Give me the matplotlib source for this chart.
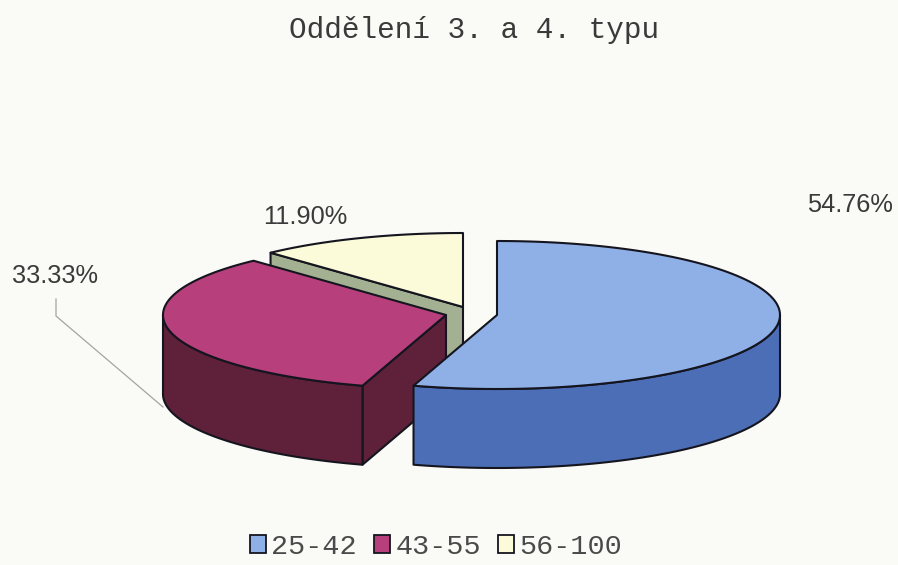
import numpy as np
import matplotlib
matplotlib.use("Agg")
import matplotlib.pyplot as plt
from matplotlib.patches import Polygon, Patch

title = "Oddělení 3. a 4. typu"
categories = ["25-42", "43-55", "56-100"]
shares = [54.76, 33.33, 11.90]
share_labels = ["54.76%", "33.33%", "11.90%"]

top_colors = ["#8fb0e6", "#b63f7c", "#fbfbd9"]
side_colors = ["#4b6eb6", "#5f2139", "#a3b192"]
edge = "#15151f"
paper = "#fafaf6"
text_col = "#3a3a3a"

centers = [(497, 315), (446, 315), (463, 307)]
rx, ry, depth = 283, 74, 79

fig = plt.figure(figsize=(8.98, 5.65), dpi=100, facecolor=paper)
ax = fig.add_axes([0, 0, 1, 1])
ax.set_xlim(0, 898)
ax.set_ylim(565, 0)
ax.axis("off")


def rim(cx, cy, a0, a1, n=120):
    t = np.radians(np.linspace(a0, a1, n))
    return np.column_stack([cx + rx * np.sin(t), cy - ry * np.cos(t)])


edges = np.concatenate([[0], np.cumsum(shares) / np.sum(shares) * 360])
kw = dict(edgecolor=edge, linewidth=1.5, joinstyle="round")

# back to front: third slice, second slice, first slice
for i in [2, 1, 0]:
    a0, a1 = edges[i], edges[i + 1]
    cx, cy = centers[i]
    down = np.array([0, depth])
    apex = np.array([cx, cy])
    top = rim(cx, cy, a0, a1)

    # cut face belonging to the leading edge, when it faces the viewer
    if 180 < a0 < 360:
        p = rim(cx, cy, a0, a0, 1)[0]
        ax.add_patch(Polygon([apex, p, p + down, apex + down], closed=True,
                             facecolor=side_colors[i], **kw))

    # outer wall: only the part of the rim at the front of the ellipse
    w0, w1 = max(a0, 90), min(a1, 270)
    if w1 > w0:
        r = rim(cx, cy, w0, w1)
        ax.add_patch(Polygon(np.vstack([r, (r + down)[::-1]]), closed=True,
                             facecolor=side_colors[i], **kw))

    ax.add_patch(Polygon(np.vstack([apex, top]), closed=True,
                         facecolor=top_colors[i], **kw))

# percentage labels and the leader line of the middle slice
label_font = dict(family="Liberation Sans", fontsize=18.3, color=text_col,
                  ha="center", va="center")
ax.text(850, 205, share_labels[0], **label_font)
ax.text(55, 276, share_labels[1], **label_font)
ax.text(305, 217, share_labels[2], **label_font)
ax.plot([56, 56, 163], [299, 316, 407], color="#a5a5a0", lw=0.9)

ax.text(474, 30, title, family="Liberation Mono", fontsize=21.2,
        color=text_col, ha="center", va="center")

handles = [Patch(facecolor=c, edgecolor=edge, linewidth=1.3) for c in top_colors]
leg = ax.legend(handles, categories, loc="center", bbox_to_anchor=(436, 547),
                bbox_transform=ax.transData, ncol=3, frameon=False,
                prop=dict(family="Liberation Mono", size=20.5),
                labelcolor="#4a4a4a", handlelength=0.55, handleheight=0.55,
                handletextpad=0.2, columnspacing=0.6, borderpad=0, labelspacing=0)

fig.savefig("out.png", dpi=100, facecolor=paper)
